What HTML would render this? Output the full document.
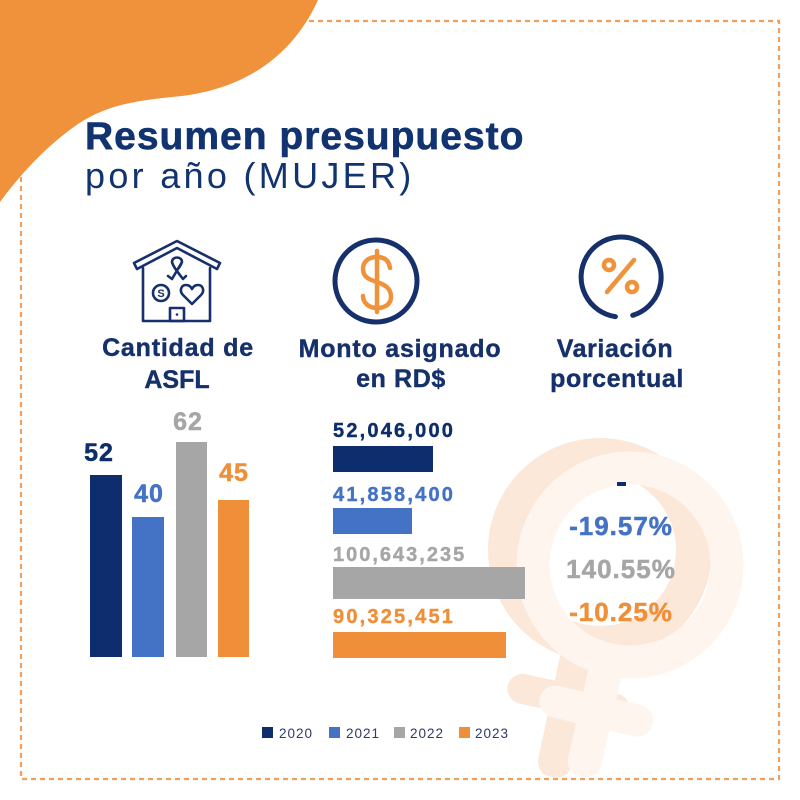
<!DOCTYPE html>
<html>
<head>
<meta charset="utf-8">
<style>
  html,body{margin:0;padding:0;background:#ffffff;}
  svg{display:block;}
  text{font-family:"Liberation Sans",sans-serif;}
</style>
</head>
<body>
<svg width="800" height="800" viewBox="0 0 800 800" xmlns="http://www.w3.org/2000/svg">
  <rect width="800" height="800" fill="#ffffff"/>

  <!-- dashed border -->
  <rect x="21" y="21" width="758" height="758" fill="none" stroke="#f0a05c" stroke-width="2.2" stroke-dasharray="5 4"/>

  <!-- orange blob -->
  <path d="M0,0 L318,0 C300,40 262,86 182,96 C140,100 108,104 78,124 C46,146 20,175 0,202 Z" fill="#f0913b"/>

  <!-- female symbol watermark (back, peach) -->
  <g transform="rotate(12 600 550)" fill="#fbe8d9">
    <circle cx="600" cy="550" r="94" fill="none" stroke="#fbe8d9" stroke-width="36"/>
    <rect x="583" y="630" width="34" height="152" rx="15"/>
    <rect x="538" y="687" width="124" height="30" rx="15"/>
  </g>
  <!-- front, lighter -->
  <g transform="rotate(13 630 565)" fill="#fef5ee">
    <circle cx="630" cy="565" r="97" fill="none" stroke="#fef5ee" stroke-width="33"/>
    <rect x="613" y="650" width="34" height="132" rx="15"/>
    <rect x="572" y="699" width="116" height="32" rx="16"/>
  </g>

  <!-- Title -->
  <text x="85" y="149" font-size="39" font-weight="bold" fill="#11336f" stroke="#11336f" stroke-width="0.6" letter-spacing="1">Resumen presupuesto</text>
  <text x="85" y="188" font-size="36" fill="#11336f" letter-spacing="3.3">por año (MUJER)</text>

  <!-- House icon -->
  <g fill="none" stroke="#15306b" stroke-width="2.6" stroke-linejoin="round" stroke-linecap="round">
    <polygon points="134,263 177,241 220,263 217,269 177,248 137,269"/>
    <path d="M143,268 L143,321 L210,321 L210,268"/>
    <rect x="170" y="308" width="14" height="13"/>
    <circle cx="161" cy="293" r="8"/>
    <path d="M192,304 L183,295 C179,291 181,285 186,285 C189,285 191,287 192,289 C193,287 195,285 198,285 C203,285 205,291 201,295 Z"/>
    <path d="M172,262 C172,256 182,256 182,262 L172,279 M182,262 C181,265 179,268 177,270 M172,262 C173,266 176,270 183,279 M168,276 L172,279 M186,276 L183,279"/>
  </g>
  <circle cx="177" cy="314.5" r="1.3" fill="#15306b"/>
  <text x="161" y="297" font-size="11" font-weight="bold" fill="#15306b" text-anchor="middle">S</text>

  <!-- Dollar icon -->
  <circle cx="376" cy="281" r="41" fill="none" stroke="#15306b" stroke-width="5"/>
  <g fill="none" stroke="#f0913b" stroke-width="4.5" stroke-linecap="round">
    <path d="M377,251 L377,312"/>
    <path d="M390,268 C389,260 384,257 377,257 C368,257 363,262 363,269 C363,278 371,280 377,282 C385,285 391,288 391,297 C391,304 385,308 377,308 C369,308 363,303 363,296"/>
  </g>

  <!-- Percent icon -->
  <path d="M632.7,315.3 A40,40 0 1 0 615.4,316.6" fill="none" stroke="#15306b" stroke-width="5" stroke-linecap="round"/>
  <g fill="none" stroke="#f0913b" stroke-width="4.5" stroke-linecap="round">
    <circle cx="609" cy="265" r="5"/>
    <circle cx="632" cy="287" r="5"/>
    <path d="M634,260 L607,292"/>
  </g>

  <!-- Headings -->
  <g font-size="25" font-weight="bold" fill="#15306b" stroke="#15306b" stroke-width="0.4" text-anchor="middle">
    <text x="178" y="356" letter-spacing="0.8">Cantidad de</text>
    <text x="177" y="388" letter-spacing="0">ASFL</text>
    <text x="400" y="357" letter-spacing="0.8">Monto asignado</text>
    <text x="401" y="387" letter-spacing="0.6">en RD$</text>
    <text x="615" y="357" letter-spacing="0.6">Variación</text>
    <text x="617" y="387" letter-spacing="0.6">porcentual</text>
  </g>

  <!-- Vertical bars -->
  <rect x="90" y="475" width="32" height="182" fill="#0d2d6c"/>
  <rect x="132" y="517" width="32" height="140" fill="#4472c4"/>
  <rect x="176" y="442" width="31" height="215" fill="#a6a6a6"/>
  <rect x="218" y="500" width="31" height="157" fill="#ef8f3a"/>
  <g font-size="25" font-weight="bold" text-anchor="middle" letter-spacing="1" stroke-width="0.5">
    <text x="99" y="461" fill="#0d2d6c" stroke="#0d2d6c">52</text>
    <text x="149" y="502" fill="#4472c4" stroke="#4472c4">40</text>
    <text x="188" y="430" fill="#a6a6a6" stroke="#a6a6a6">62</text>
    <text x="234" y="481" fill="#ef8f3a" stroke="#ef8f3a">45</text>
  </g>

  <!-- Horizontal bars -->
  <rect x="333" y="446" width="100" height="26" fill="#0d2d6c"/>
  <rect x="333" y="508" width="79" height="26" fill="#4472c4"/>
  <rect x="333" y="567" width="192" height="32" fill="#a6a6a6"/>
  <rect x="333" y="632" width="173" height="26" fill="#ef8f3a"/>
  <g font-size="20" font-weight="bold" letter-spacing="2.2" stroke-width="0.4">
    <text x="333" y="437" fill="#0d2d6c" stroke="#0d2d6c">52,046,000</text>
    <text x="333" y="501" fill="#4472c4" stroke="#4472c4">41,858,400</text>
    <text x="333" y="561" fill="#a6a6a6" stroke="#a6a6a6" letter-spacing="2">100,643,235</text>
    <text x="333" y="623" fill="#ef8f3a" stroke="#ef8f3a">90,325,451</text>
  </g>

  <!-- Percent values -->
  <rect x="617" y="482" width="9" height="4" fill="#0d2d6c"/>
  <g font-size="26" font-weight="bold" text-anchor="middle" letter-spacing="1" stroke-width="0.5">
    <text x="621" y="535" fill="#4472c4" stroke="#4472c4">-19.57%</text>
    <text x="621" y="578" fill="#a6a6a6" stroke="#a6a6a6">140.55%</text>
    <text x="621" y="621" fill="#ef8f3a" stroke="#ef8f3a">-10.25%</text>
  </g>

  <!-- Legend -->
  <rect x="262" y="727" width="11" height="11" fill="#0d2d6c"/>
  <rect x="329" y="727" width="11" height="11" fill="#4472c4"/>
  <rect x="394" y="727" width="11" height="11" fill="#a6a6a6"/>
  <rect x="459" y="727" width="11" height="11" fill="#ef8f3a"/>
  <g font-size="13.5" fill="#2b3a67" letter-spacing="1">
    <text x="279" y="738">2020</text>
    <text x="346" y="738">2021</text>
    <text x="410" y="738">2022</text>
    <text x="475" y="738">2023</text>
  </g>
</svg>
</body>
</html>
